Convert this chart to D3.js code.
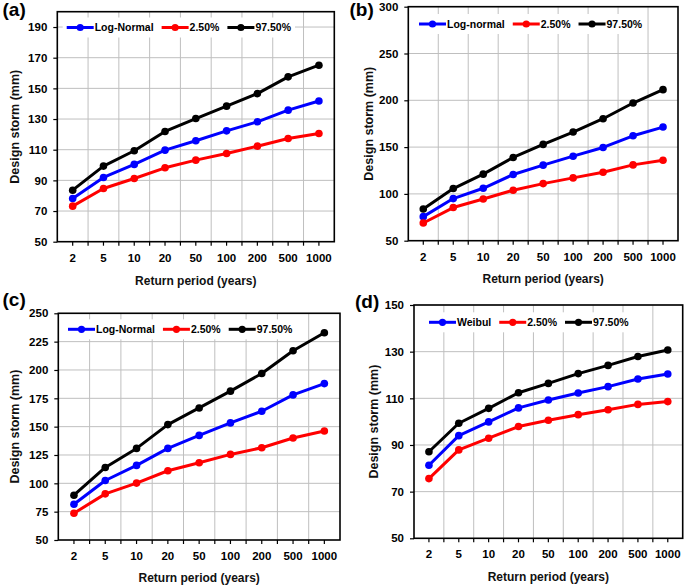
<!DOCTYPE html>
<html><head><meta charset="utf-8">
<script src="https://cdn.jsdelivr.net/npm/d3@7"></script>
<style>
html,body{margin:0;padding:0;background:#fff;}
svg{display:block;font-family:"Liberation Sans",Arial,sans-serif;}
</style></head>
<body>
<svg id="chart" width="685" height="586"></svg>
<script>
// ---------- data ----------
const categories = ["2","5","10","20","50","100","200","500","1000"];

const aDist  = [78.2, 91.9, 100.4, 109.7, 115.8, 122.3, 128.2, 135.8, 141.8];
const aLower = [73.2, 84.7, 91.2, 98.2, 103.2, 107.5, 112.3, 117.3, 120.6];
const aUpper = [83.6, 99.3, 109.3, 121.9, 130.3, 138.4, 146.6, 157.5, 165.1];

const bDist  = [75.7, 95.0, 106.0, 120.7, 130.7, 140.3, 149.6, 162.1, 171.4];
const bLower = [68.9, 85.4, 94.6, 103.9, 111.0, 117.1, 123.2, 131.0, 136.0];
const bUpper = [83.9, 105.7, 121.1, 138.9, 152.9, 166.1, 180.3, 197.1, 211.4];

const cDist  = [81.6, 102.5, 115.8, 130.8, 142.3, 153.3, 163.6, 178.0, 188.0];
const cLower = [73.6, 90.7, 100.2, 111.1, 118.1, 125.5, 131.4, 140.0, 146.2];
const cUpper = [89.5, 114.0, 130.8, 151.8, 166.5, 181.3, 196.9, 217.0, 232.9];

const dDist  = [81.3, 94.0, 99.9, 105.9, 109.3, 112.3, 115.0, 118.3, 120.4];
const dLower = [75.6, 87.9, 92.9, 97.9, 100.6, 103.0, 105.1, 107.4, 108.6];
const dUpper = [87.1, 99.3, 105.7, 112.4, 116.4, 120.6, 124.1, 127.9, 130.7];

const aTicks = [50, 70, 90, 110, 130, 150, 170, 190];
const bTicks = [50, 100, 150, 200, 250, 300];
const cTicks = [50, 75, 100, 125, 150, 175, 200, 225, 250];
const dTicks = [50, 70, 90, 110, 130, 150];

const aDomain = [50, 200];
const bDomain = [50, 300];
const cDomain = [50, 250];
const dDomain = [50, 150];

const seriesNamesA = ["Log-Normal", "2.50%", "97.50%"];
const seriesNamesB = ["Log-normal", "2.50%", "97.50%"];
const seriesNamesC = ["Log-Normal", "2.50%", "97.50%"];
const seriesNamesD = ["Weibul", "2.50%", "97.50%"];
const panelLabels = ["(a)", "(b)", "(c)", "(d)"];
const xTitle = "Return period (years)";
const yTitle = "Design storm (mm)";

// ---------- layout ----------
const colors = ["#0000ff", "#ff0000", "#000000"];
const panels = [
  {label: panelLabels[0], names: seriesNamesA, series: [aDist, aLower, aUpper], ticks: aTicks, domain: aDomain,
   left: 57.3, right: 334.3, top: 11.7, bottom: 241.7, labelX: 2.5, labelY: 15.5, yTitleX: 15, xTitleY: 281, legX: 66.7, legY: 27.5},
  {label: panelLabels[1], names: seriesNamesB, series: [bDist, bLower, bUpper], ticks: bTicks, domain: bDomain,
   left: 408.3, right: 678, top: 6.7, bottom: 240.7, labelX: 349.5, labelY: 15.5, yTitleX: 368.5, xTitleY: 279, legX: 419, legY: 24},
  {label: panelLabels[2], names: seriesNamesC, series: [cDist, cLower, cUpper], ticks: cTicks, domain: cDomain,
   left: 58.3, right: 340, top: 313.3, bottom: 540, labelX: 2.5, labelY: 305.5, yTitleX: 15, xTitleY: 577.3, legX: 68, legY: 329.3},
  {label: panelLabels[3], names: seriesNamesD, series: [dDist, dLower, dUpper], ticks: dTicks, domain: dDomain,
   left: 414, right: 682.7, top: 305, bottom: 538.3, labelX: 355, labelY: 308, yTitleX: 373.5, xTitleY: 576.7, legX: 429, legY: 322.3}
];

const svg = d3.select("#chart");

panels.forEach(p => {
  const g = svg.append("g");
  const x = d3.scaleBand().domain(categories).range([p.left, p.right]).padding(0);
  const y = d3.scaleLinear().domain(p.domain).range([p.bottom, p.top]);

  // grid lines horizontal
  g.append("g").selectAll("line").data(p.ticks.filter(t => t > p.domain[0]))
    .join("line")
    .attr("x1", p.left).attr("x2", p.right)
    .attr("y1", d => y(d)).attr("y2", d => y(d))
    .attr("stroke", "#bfbfbf").attr("stroke-width", 1);
  // grid lines vertical (category boundaries)
  g.append("g").selectAll("line").data(categories.slice(1))
    .join("line")
    .attr("x1", d => x(d)).attr("x2", d => x(d))
    .attr("y1", p.top).attr("y2", p.bottom)
    .attr("stroke", "#bfbfbf").attr("stroke-width", 1);

  // x axis
  const xAxis = d3.axisBottom(x).tickSize(4).tickSizeOuter(0).tickPadding(8);
  const gx = g.append("g").attr("transform", `translate(0,${p.bottom})`).call(xAxis);
  gx.select(".domain").remove();
  gx.selectAll(".tick line").attr("stroke", "#000").attr("stroke-width", 1.2);
  gx.selectAll(".tick text").attr("font-size", 11.5).attr("font-weight", "bold").attr("fill", "#000")
    .attr("font-family", "Liberation Sans, Arial, sans-serif");
  // boundary ticks
  g.append("g").selectAll("line").data(categories.slice(1))
    .join("line")
    .attr("x1", d => x(d)).attr("x2", d => x(d))
    .attr("y1", p.bottom).attr("y2", p.bottom + 4)
    .attr("stroke", "#000").attr("stroke-width", 1.2);

  // y axis
  const yAxis = d3.axisLeft(y).tickValues(p.ticks).tickSize(4).tickSizeOuter(0).tickPadding(6);
  const gy = g.append("g").attr("transform", `translate(${p.left},0)`).call(yAxis);
  gy.select(".domain").remove();
  gy.selectAll(".tick line").attr("stroke", "#000").attr("stroke-width", 1.2);
  gy.selectAll(".tick text").attr("font-size", 11.5).attr("font-weight", "bold").attr("fill", "#000")
    .attr("font-family", "Liberation Sans, Arial, sans-serif");

  // plot border
  g.append("rect").attr("x", p.left).attr("y", p.top)
    .attr("width", p.right - p.left).attr("height", p.bottom - p.top)
    .attr("fill", "none").attr("stroke", "#000").attr("stroke-width", 1.6);

  // legend
  const lg = g.append("g");
  const bg = lg.append("rect").attr("fill", "#fff");
  let cx = p.legX;
  p.names.forEach((name, i) => {
    lg.append("line").attr("x1", cx).attr("x2", cx + 27).attr("y1", p.legY).attr("y2", p.legY)
      .attr("stroke", colors[i]).attr("stroke-width", 3);
    lg.append("circle").attr("cx", cx + 13.5).attr("cy", p.legY).attr("r", 3.6).attr("fill", colors[i]);
    const t = lg.append("text").attr("x", cx + 28).attr("y", p.legY).attr("dy", "0.36em")
      .attr("font-size", 10.5).attr("font-weight", "bold").attr("fill", "#000").text(name);
    cx += 28 + t.node().getComputedTextLength() + 8;
  });
  bg.attr("x", p.legX - 4).attr("y", p.legY - 10).attr("width", cx - p.legX).attr("height", 20);

  // series lines + markers
  p.series.forEach((vals, i) => {
    const line = d3.line().x((d, j) => x(categories[j]) + x.bandwidth() / 2).y(d => y(d));
    g.append("path").datum(vals).attr("d", line).attr("fill", "none")
      .attr("stroke", colors[i]).attr("stroke-width", 3).attr("stroke-linejoin", "round");
    g.append("g").selectAll("circle").data(vals).join("circle")
      .attr("cx", (d, j) => x(categories[j]) + x.bandwidth() / 2)
      .attr("cy", d => y(d)).attr("r", 3.8).attr("fill", colors[i]);
  });

  // titles
  g.append("text").attr("x", (p.left + p.right) / 2).attr("y", p.xTitleY).attr("dy", "0.35em")
    .attr("text-anchor", "middle").attr("font-size", 12).attr("font-weight", "bold").attr("fill", "#111")
    .text(xTitle);
  g.append("text").attr("transform", `translate(${p.yTitleX},${(p.top + p.bottom) / 2}) rotate(-90)`)
    .attr("dy", "0.35em").attr("text-anchor", "middle").attr("font-size", 12.5).attr("font-weight", "bold")
    .attr("fill", "#111").text(yTitle);
  // panel label
  g.append("text").attr("x", p.labelX).attr("y", p.labelY).attr("font-size", 19).attr("font-weight", "bold")
    .attr("fill", "#000").text(p.label);
});
</script>
</body></html>
